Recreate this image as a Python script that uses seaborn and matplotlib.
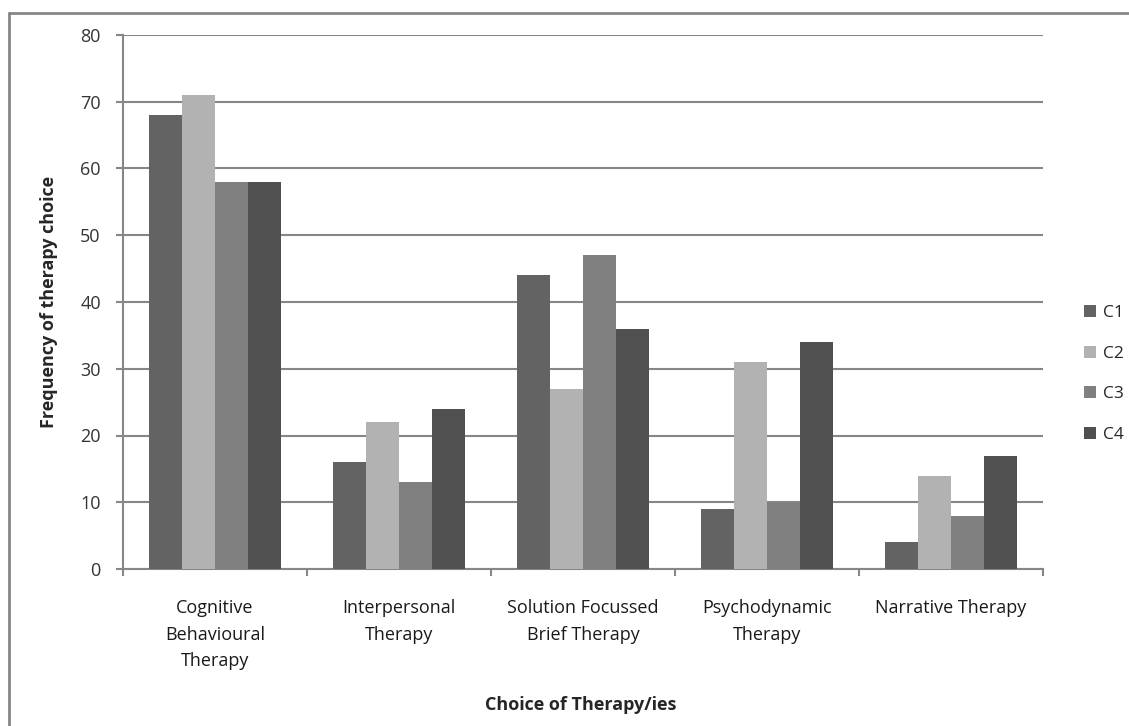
import matplotlib
matplotlib.use("Agg")
import matplotlib.pyplot as plt
from matplotlib.lines import Line2D
import numpy as np
import pandas as pd
import seaborn as sns

# data
therapies = ["Cognitive\nBehavioural\nTherapy", "Interpersonal\nTherapy",
             "Solution Focussed\nBrief Therapy", "Psychodynamic\nTherapy",
             "Narrative Therapy"]
groups = ["C1", "C2", "C3", "C4"]
c1 = [68, 16, 44, 9, 4]
c2 = [71, 22, 27, 31, 14]
c3 = [58, 13, 47, 10, 8]
c4 = [58, 24, 36, 34, 17]
yticks = [0, 10, 20, 30, 40, 50, 60, 70, 80]

colors = ["#636363", "#b2b2b2", "#808080", "#505050"]
gridc = "#868686"

df = pd.DataFrame({
    "Therapy": therapies * 4,
    "Group": [g for g in groups for _ in therapies],
    "Freq": c1 + c2 + c3 + c4,
})

sns.set_theme(style="white")
plt.rcParams["font.family"] = ["Open Sans", "DejaVu Sans"]

fig = plt.figure(figsize=(11.29, 7.26), dpi=100)
ax = fig.add_axes([123/1129, 1-569/726, (1043-123)/1129, (569-35)/726])

sns.barplot(data=df, x="Therapy", y="Freq", hue="Group", palette=colors,
            saturation=1, width=0.72, linewidth=0, ax=ax, zorder=3)

ax.set_ylim(0, 80)
ax.set_xlim(-0.5, len(therapies)-0.5)
ax.set_yticks(yticks)
ax.yaxis.grid(True, color=gridc, linewidth=1.5, zorder=0)
ax.set_axisbelow(True)
for s in ["top", "right"]:
    ax.spines[s].set_visible(False)
for s in ["left", "bottom"]:
    ax.spines[s].set_color(gridc)
    ax.spines[s].set_linewidth(1.5)

ax.tick_params(axis="y", length=5, width=1.5, color=gridc, pad=11,
               labelsize=13, labelcolor="#333333", left=True)
ax.tick_params(axis="x", which="major", length=0, pad=21.5, labelsize=13,
               labelcolor="#1a1a1a")
ax.set_xticks(np.arange(-0.5, len(therapies)), minor=True)
ax.tick_params(axis="x", which="minor", length=5, width=1.5, color=gridc,
               bottom=True)
for t in ax.get_xticklabels():
    t.set_linespacing(1.62)

ax.set_xlabel("")
ax.set_ylabel("Frequency of therapy choice", fontsize=13, fontweight="bold",
              labelpad=16)
fig.text(581/1129, 1-705/726, "Choice of Therapy/ies", fontsize=13,
         fontweight="bold", ha="center", va="center")

ax.legend(loc="center left", bbox_to_anchor=(1068/1129, 1-374/726),
          bbox_transform=fig.transFigure, frameon=False, fontsize=12.5,
          handlelength=0.7, handleheight=0.7, handletextpad=0.4,
          labelspacing=1.4)

# outer chart border (top and left edges visible)
fig.add_artist(Line2D([9/1129, 1], [1-13/726, 1-13/726], transform=fig.transFigure,
                      color=gridc, linewidth=2))
fig.add_artist(Line2D([9/1129, 9/1129], [0, 1-13/726], transform=fig.transFigure,
                      color=gridc, linewidth=2))

fig.savefig("out.png", dpi=100)
